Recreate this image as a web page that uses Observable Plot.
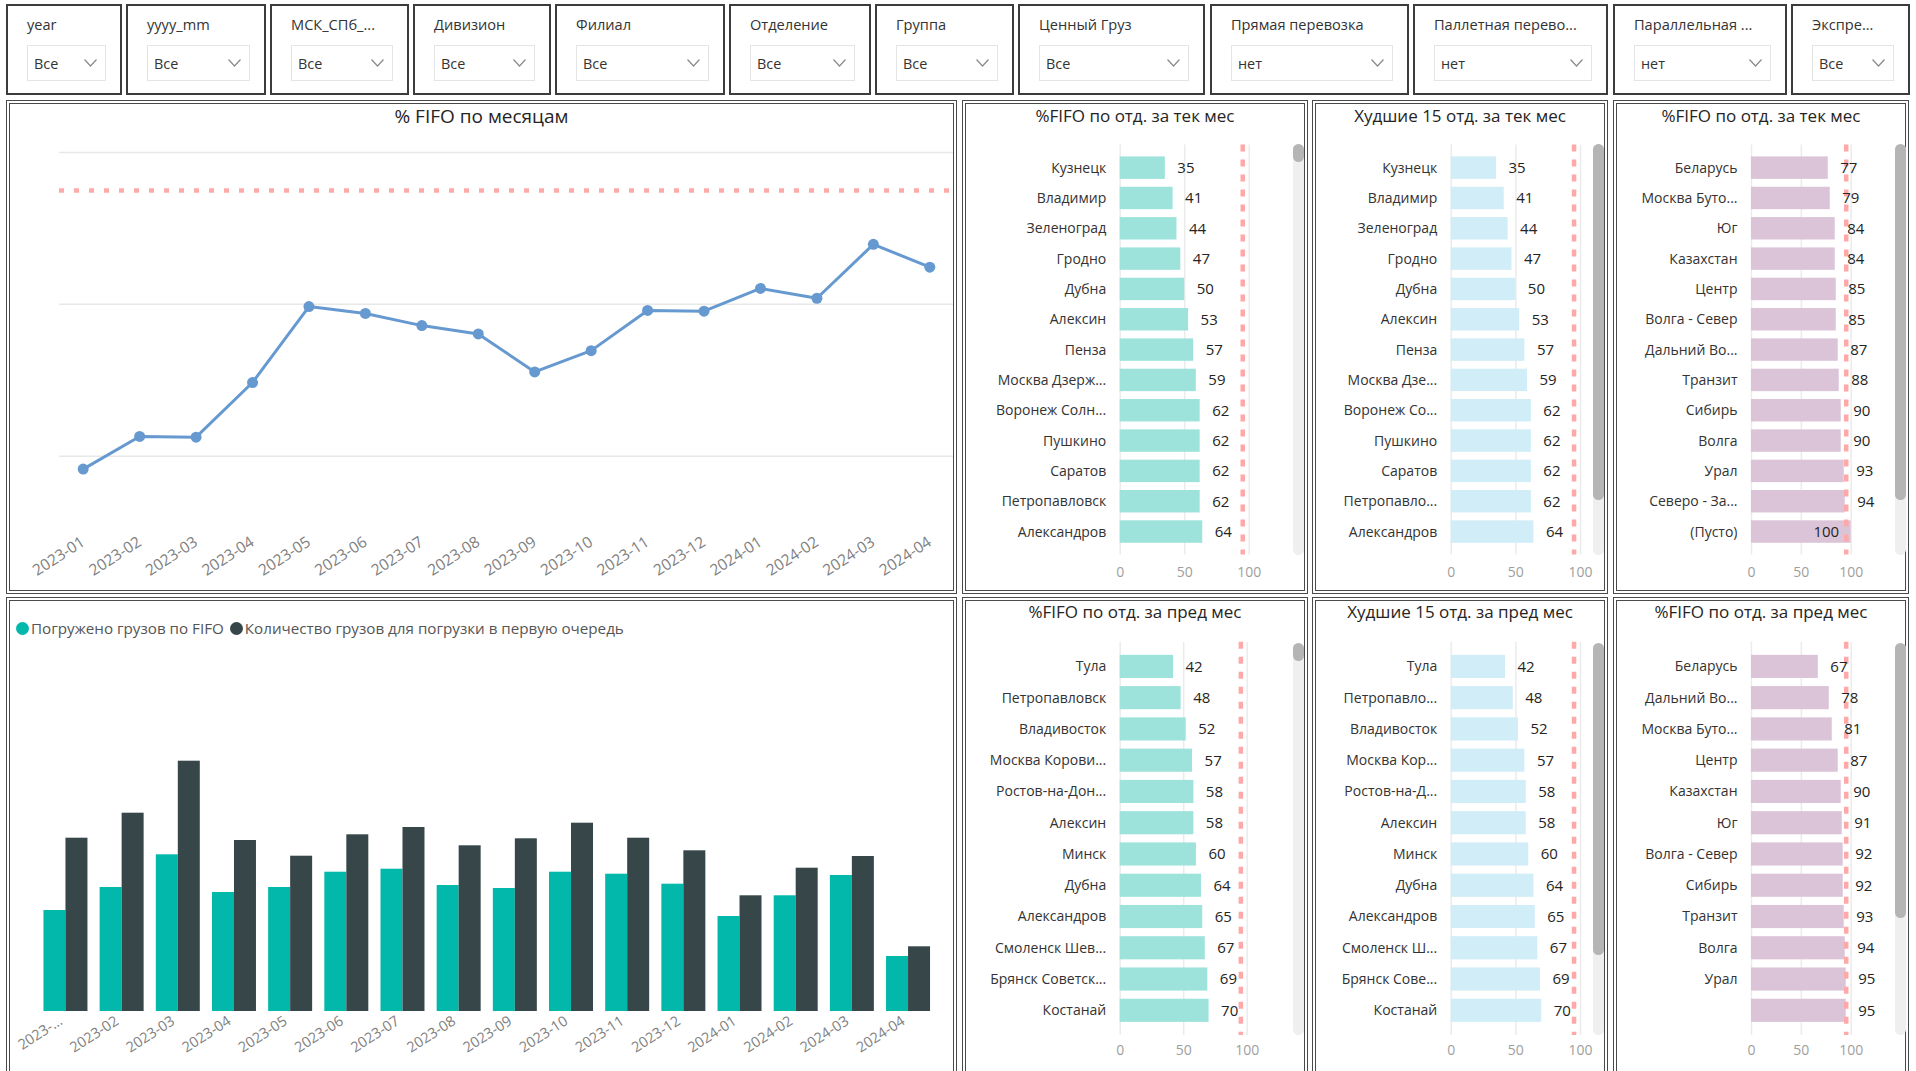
<!DOCTYPE html>
<html><head><meta charset="utf-8">
<script src="https://cdn.jsdelivr.net/npm/d3@7"></script>
<script src="https://cdn.jsdelivr.net/npm/@observablehq/plot@0.6"></script>
<style>
body{margin:0;width:1916px;height:1071px;overflow:hidden;background:#fff;font-family:"Open Sans","Noto Sans",sans-serif;position:relative;color:#252423;}
.panel{position:absolute;box-sizing:border-box;border:4px double #4a4a4a;background:#fff;}
.filter{position:absolute;box-sizing:border-box;border:2px solid #3c3c3c;top:4px;height:91px;background:#fff;}
.flabel{position:absolute;left:19px;top:8px;font-size:14.6px;color:#333;white-space:nowrap;}
.dd{position:absolute;left:19px;right:14px;top:39px;height:36px;box-sizing:border-box;border:1px solid #e4e4e4;font-size:14.4px;color:#333;}
.dd span{position:absolute;left:6px;top:8px;}
.dd svg{position:absolute;right:8px;top:13px;}
.title{position:absolute;text-align:center;white-space:nowrap;}
.track{position:absolute;background:#efefef;border-radius:6px;width:11px;}
.thumb{position:absolute;left:0;top:0;width:11px;background:#b5b5b5;border-radius:6px;}
.legend{position:absolute;left:16px;top:618px;font-size:15.2px;color:#555;white-space:nowrap;display:flex;align-items:center;}
.legend i{display:inline-block;width:13px;height:13px;border-radius:50%;margin-right:2px;}
</style></head>
<body>
<script>
// ---------- DATA ----------
const filterNames = ["year","yyyy_mm","МСК_СПб_...","Дивизион","Филиал","Отделение","Группа","Ценный Груз","Прямая перевозка","Паллетная перево...","Параллельная ...","Экспре..."];
const filterValues = ["Все","Все","Все","Все","Все","Все","Все","Все","нет","нет","нет","Все"];

const months = ["2023-01","2023-02","2023-03","2023-04","2023-05","2023-06","2023-07","2023-08","2023-09","2023-10","2023-11","2023-12","2024-01","2024-02","2024-03","2024-04"];
const monthTickLabels = ["2023-...","2023-02","2023-03","2023-04","2023-05","2023-06","2023-07","2023-08","2023-09","2023-10","2023-11","2023-12","2024-01","2024-02","2024-03","2024-04"];
const fifoPct = [58.3,62.6,62.5,69.7,79.7,78.8,77.2,76.1,71.1,73.9,79.2,79.1,82.1,80.8,87.9,84.9];
const target = 95;
const gridValues = [60,80,100];

const seriesNames = ["Погружено грузов по FIFO","Количество грузов для погрузки в первую очередь"];
const loadedFifo =    [1010,1240,1567,1190,1240,1393,1423,1260,1230,1393,1373,1273, 950,1157,1360, 550];
const priorityCount = [1733,1983,2503,1710,1553,1767,1840,1657,1727,1883,1733,1607,1157,1433,1550, 647];

const curOtdNames = ["Кузнецк","Владимир","Зеленоград","Гродно","Дубна","Алексин","Пенза","Москва Дзерж...","Воронеж Солн...","Пушкино","Саратов","Петропавловск","Александров"];
const curOtdValues = [35,41,44,47,50,53,57,59,62,62,62,62,64];
const worstCurNames = ["Кузнецк","Владимир","Зеленоград","Гродно","Дубна","Алексин","Пенза","Москва Дзе...","Воронеж Со...","Пушкино","Саратов","Петропавло...","Александров"];
const worstCurValues = [35,41,44,47,50,53,57,59,62,62,62,62,64];
const divCurNames = ["Беларусь","Москва Буто...","Юг","Казахстан","Центр","Волга - Север","Дальний Во...","Транзит","Сибирь","Волга","Урал","Северо - За...","(Пусто)"];
const divCurValues = [77,79,84,84,85,85,87,88,90,90,93,94,100];

const prevOtdNames = ["Тула","Петропавловск","Владивосток","Москва Корови...","Ростов-на-Дон...","Алексин","Минск","Дубна","Александров","Смоленск Шев...","Брянск Советск...","Костанай"];
const prevOtdValues = [42,48,52,57,58,58,60,64,65,67,69,70];
const worstPrevNames = ["Тула","Петропавло...","Владивосток","Москва Кор...","Ростов-на-Д...","Алексин","Минск","Дубна","Александров","Смоленск Ш...","Брянск Сове...","Костанай"];
const worstPrevValues = [42,48,52,57,58,58,60,64,65,67,69,70];
const divPrevNames = ["Беларусь","Дальний Во...","Москва Буто...","Центр","Казахстан","Юг","Волга - Север","Сибирь","Транзит","Волга","Урал",""];
const divPrevValues = [67,78,81,87,90,91,92,92,93,94,95,95];

// ---------- LAYOUT HELPERS ----------
const FONT = '"Open Sans","Noto Sans",sans-serif';
function el(tag, cls, style, html){const e=document.createElement(tag); if(cls) e.className=cls; if(style) Object.assign(e.style, style); if(html!=null) e.innerHTML=html; document.body.appendChild(e); return e;}
function place(svg, left, topPx){svg.style.position="absolute"; svg.style.left=left+"px"; svg.style.top=topPx+"px"; document.body.appendChild(svg); return svg;}

// ---------- FILTER BAR ----------
const filterBoxes = [[6,122],[126,266],[270,409],[413,551],[555,725],[729,871],[875,1014],[1018,1205],[1210,1409],[1413,1608],[1613,1787],[1791,1910]];
const chevron = '<svg width="13" height="8" viewBox="0 0 13 8"><polyline points="0.5,0.5 6.5,7 12.5,0.5" fill="none" stroke="#8a8a8a" stroke-width="1.2"/></svg>';
filterNames.forEach((n,i)=>{
  const [a,b] = filterBoxes[i];
  const f = el("div","filter",{left:a+"px",width:(b-a)+"px"});
  const l = document.createElement("div"); l.className="flabel"; l.textContent=n; f.appendChild(l);
  const d = document.createElement("div"); d.className="dd"; d.innerHTML="<span>"+filterValues[i]+"</span>"+chevron; f.appendChild(d);
});

// ---------- PANELS ----------
const panels = [[6,100,951,494],[6,597,951,480],[962,100,346,494],[1312,100,296,494],[1613,100,296,494],[962,597,346,480],[1312,597,296,480],[1613,597,296,480]];
panels.forEach(([l,t,w,h])=>el("div","panel",{left:l+"px",top:t+"px",width:w+"px",height:h+"px"}));

// ---------- LINE CHART ----------
el("div","title",{left:"6px",width:"951px",top:"103px",fontSize:"19px"},"% FIFO по месяцам");
const lineData = months.map((m,i)=>({month:m, pct:fifoPct[i]}));
place(Plot.plot({
  width:947, height:462, marginLeft:51, marginRight:2, marginTop:24, marginBottom:66,
  style:{fontFamily:FONT, fontSize:"15.5px", color:"#808080", background:"transparent", overflow:"visible"},
  x:{type:"point", domain:months, padding:0.42, round:false, tickRotate:-33, tickSize:0, tickPadding:16, label:null},
  y:{domain:[51,100], axis:null},
  marks:[
    Plot.ruleY(gridValues,{stroke:"#e8e8e8", strokeWidth:1.5}),
    Plot.ruleY([target],{stroke:"#ffaaaa", strokeWidth:4.5, strokeDasharray:"5,10"}),
    Plot.line(lineData,{x:"month", y:"pct", stroke:"#6699d0", strokeWidth:3}),
    Plot.dot(lineData,{x:"month", y:"pct", r:5.5, fill:"#6699d0"})
  ]
}), 8, 128);

// ---------- GROUPED BAR CHART ----------
el("div","legend",{},'<i style="background:#01B8AA"></i>'+seriesNames[0]+'&nbsp;<i style="background:#374649;margin-left:2px"></i>'+seriesNames[1]);
const barData = months.flatMap((m,i)=>[{month:m, series:seriesNames[0], value:loadedFifo[i]},{month:m, series:seriesNames[1], value:priorityCount[i]}]);
const barSvg = Plot.plot({
  width:947, height:431, marginLeft:29.4, marginRight:18.9, marginTop:71, marginBottom:60,
  style:{fontFamily:FONT, fontSize:"14.5px", color:"#808080", background:"transparent", overflow:"visible"},
  facet:{data:barData, x:"month"},
  fx:{domain:months, paddingInner:0.217, paddingOuter:0.108, round:false, tickFormat:d=>monthTickLabels[months.indexOf(d)], tickRotate:-33, tickSize:0, tickPadding:8, label:null, axis:"bottom"},
  x:{domain:seriesNames, padding:0, round:false, axis:null},
  y:{domain:[0,3000], axis:null},
  color:{domain:seriesNames, range:["#01B8AA","#374649"]},
  marks:[ Plot.barY(barData,{x:"series", y:"value", fill:"series"}) ]
});
barSvg.querySelectorAll('[aria-label^="fx-axis"]').forEach(g=>{g.setAttribute("transform","translate(-5,0) "+(g.getAttribute("transform")||""));});
place(barSvg, 8, 640);

// ---------- SMALL HORIZONTAL BAR PANELS ----------
function hbar(cfg){
  const data = cfg.names.map((n,i)=>({name:n, value:cfg.values[i]}));
  el("div","title",{left:cfg.pl+"px", width:cfg.pw+"px", top:cfg.titleTop+"px", fontSize:"17px"}, cfg.title);
  const svg = Plot.plot({
    width:cfg.width, height:cfg.height, marginTop:cfg.mt, marginBottom:cfg.mb, marginLeft:cfg.ml, marginRight:cfg.mr,
    style:{fontFamily:FONT, fontSize:"14px", color:"#333", background:"transparent", overflow:"visible"},
    x:{domain:[0,100], ticks:[0,50,100], tickSize:0, tickPadding:cfg.xpad, label:null},
    y:{domain:cfg.names, paddingInner:0.26, paddingOuter:cfg.po, align:0.5, round:false, tickSize:0, tickPadding:14, label:null},
    marks:[
      Plot.ruleX([0,50,100],{stroke:"#ebebeb", strokeWidth:1.5}),
      Plot.barX(data,{y:"name", x:"value", fill:cfg.fill}),
      Plot.ruleX([target],{stroke:"#ffa8a8", strokeWidth:4.5, strokeDasharray:"7,8"}),
      Plot.text(data.filter(d=>d.value<98),{y:"name", x:"value", text:d=>String(d.value), dx:12, textAnchor:"start", fontSize:15, fill:"#252423"}),
      Plot.text(data.filter(d=>d.value>=98),{y:"name", x:"value", text:d=>String(d.value), dx:-12, textAnchor:"end", fontSize:15, fill:"#252423"})
    ]
  });
  svg.querySelectorAll('[aria-label^="x-axis"]').forEach(g=>{g.setAttribute("fill","#9e9e9e"); g.style.color="#9e9e9e";});
  place(svg, cfg.pl, cfg.top);
  const tr = el("div","track",{left:cfg.sx+"px", top:cfg.sy0+"px", height:(cfg.sy1-cfg.sy0)+"px"});
  const th = document.createElement("div"); th.className="thumb"; th.style.height=cfg.thumb+"px"; tr.appendChild(th);
}
const topCfg = {top:130, height:460, mt:14.6, mb:35.4, po:0.39, xpad:11.5, titleTop:103.5, sy0:144, sy1:555};
const botCfg = {top:630, height:441, mt:11.7, mb:36, po:0.42, xpad:10, titleTop:599.5, sy0:643, sy1:1035};
hbar({...topCfg, title:"%FIFO по отд. за тек мес", names:curOtdNames, values:curOtdValues, fill:"#9de3dc", pl:962, pw:346, width:346, ml:157.7, mr:59.3, sx:1293, thumb:18});
hbar({...topCfg, title:"Худшие 15 отд. за тек мес", names:worstCurNames, values:worstCurValues, fill:"#d1edf7", pl:1312, pw:296, width:296, ml:138.7, mr:28, sx:1593, thumb:356});
hbar({...topCfg, title:"%FIFO по отд. за тек мес", names:divCurNames, values:divCurValues, fill:"#dbc4d7", pl:1613, pw:296, width:296, ml:138, mr:58.3, sx:1895, thumb:356});
hbar({...botCfg, title:"%FIFO по отд. за пред мес", names:prevOtdNames, values:prevOtdValues, fill:"#9de3dc", pl:962, pw:346, width:346, ml:157.7, mr:61.3, sx:1293, thumb:18});
hbar({...botCfg, title:"Худшие 15 отд. за пред мес", names:worstPrevNames, values:worstPrevValues, fill:"#d1edf7", pl:1312, pw:296, width:296, ml:138.7, mr:28, sx:1593, thumb:312});
hbar({...botCfg, title:"%FIFO по отд. за пред мес", names:divPrevNames, values:divPrevValues, fill:"#dbc4d7", pl:1613, pw:296, width:296, ml:138, mr:58.3, sx:1895, thumb:275});
</script>
</body></html>
